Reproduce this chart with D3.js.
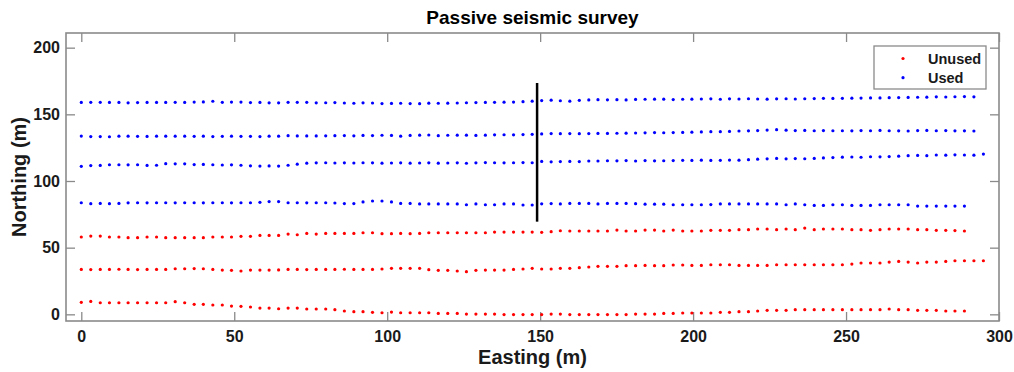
<!DOCTYPE html>
<html>
<head>
<meta charset="utf-8">
<script src="https://cdn.jsdelivr.net/npm/d3@7"></script>
<style>
  body { margin: 0; background: #fff; }
  svg { display: block; font-family: "Liberation Sans", Arial, Helvetica, sans-serif; }
  .tick text { font-size: 16px; font-weight: bold; fill: #1a1a1a; }
  .tick line { stroke: #8a8a8a; stroke-width: 1.3; }
</style>
</head>
<body>
<figure id="survey" style="margin:0"></figure>
<script>
// station eastings (m), shared by all lines
const eastings = [
  0, 3.1, 6.2, 9.2, 12.3, 15.3, 18.4, 21.5, 24.6, 27.6,
  30.7, 33.8, 36.9, 39.9, 43.0, 46.1, 49.1, 52.2, 55.3, 58.4,
  61.4, 64.5, 67.6, 70.6, 73.7, 76.8, 79.9, 82.9, 86.0, 89.1,
  92.1, 95.2, 98.3, 101.4, 104.4, 107.5, 110.6, 113.6, 116.7, 119.8,
  122.9, 125.9, 129.0, 132.1, 135.1, 138.2, 141.3, 144.4, 147.4, 150.5,
  153.6, 156.6, 159.7, 162.8, 165.9, 168.9, 172.0, 175.1, 178.1, 181.2,
  184.3, 187.4, 190.4, 193.5, 196.6, 199.6, 202.7, 205.8, 208.9, 211.9,
  215.0, 218.1, 221.1, 224.2, 227.3, 230.4, 233.4, 236.5, 239.6, 242.6,
  245.7, 248.8, 251.9, 254.9, 258.0, 261.1, 264.1, 267.2, 270.3, 273.4,
  276.4, 279.5, 282.6, 285.6, 288.7, 291.8, 294.9
];

// northings (m) of each line, "Used" lines
const used1 = [
  158.9, 159.0, 159.0, 158.9, 158.9, 158.6, 158.8, 158.9, 158.9, 158.9,
  159.0, 158.9, 159.2, 159.3, 159.8, 159.0, 159.2, 159.2, 158.8, 158.9,
  158.6, 158.6, 159.0, 159.0, 159.0, 158.6, 158.7, 158.8, 158.5, 158.3,
  158.6, 158.5, 158.1, 158.2, 158.3, 158.1, 158.0, 158.4, 158.3, 158.4,
  158.5, 158.7, 158.8, 158.9, 159.0, 159.1, 159.2, 159.5, 159.9, 160.3,
  160.6, 160.2, 159.9, 160.5, 160.8, 161.0, 160.9, 161.0, 160.8, 161.2,
  161.3, 161.4, 161.4, 161.1, 161.3, 161.4, 161.5, 161.6, 161.3, 161.6,
  161.5, 161.7, 161.5, 161.4, 161.6, 161.7, 161.5, 161.7, 161.8, 162.0,
  161.9, 162.0, 162.1, 162.2, 162.3, 162.3, 162.5, 162.6, 162.7, 162.8,
  162.9, 163.1, 163.0, 163.2, 163.3, 163.1
];
const used2 = [
  133.7, 133.3, 133.3, 133.2, 133.6, 133.6, 133.5, 133.4, 133.6, 133.6,
  133.6, 133.6, 133.5, 133.6, 133.3, 133.5, 133.6, 133.5, 133.5, 133.3,
  133.6, 133.6, 134.0, 133.8, 133.8, 133.8, 133.9, 134.0, 134.1, 133.9,
  134.2, 134.1, 134.3, 134.2, 133.6, 134.2, 134.4, 134.5, 134.0, 134.3,
  134.4, 134.4, 134.2, 134.4, 134.6, 134.7, 134.6, 134.8, 135.0, 135.3,
  135.6, 135.5, 135.6, 135.5, 135.6, 135.7, 135.7, 135.8, 135.9, 136.0,
  136.1, 136.3, 136.2, 136.3, 136.4, 136.6, 136.8, 137.0, 137.0, 137.2,
  137.5, 137.6, 137.8, 138.2, 138.5, 138.1, 137.8, 137.9, 137.7, 137.8,
  137.7, 137.7, 137.6, 137.8, 137.7, 137.9, 137.7, 137.6, 137.5, 137.8,
  137.9, 137.7, 137.8, 137.6, 137.6, 137.5
];
const used3 = [
  111.0, 111.6, 111.7, 112.2, 112.2, 112.1, 112.2, 111.7, 111.8, 113.0,
  112.9, 112.9, 112.3, 112.4, 112.2, 112.0, 112.1, 111.8, 111.4, 111.2,
  111.3, 111.2, 111.8, 112.6, 113.4, 113.6, 113.7, 113.5, 113.6, 113.5,
  113.7, 113.6, 113.4, 113.5, 113.6, 113.4, 113.5, 113.6, 113.4, 113.5,
  113.6, 113.3, 113.6, 113.8, 113.7, 113.6, 113.7, 113.8, 113.7, 114.7,
  114.4, 114.6, 114.7, 114.6, 115.0, 115.0, 115.2, 115.1, 115.3, 115.0,
  115.3, 115.1, 115.2, 115.3, 115.5, 115.4, 115.6, 115.4, 115.5, 115.7,
  115.6, 116.0, 116.4, 116.6, 116.9, 116.6, 116.8, 116.7, 116.9, 117.3,
  117.6, 117.9, 118.0, 117.8, 118.2, 118.1, 118.3, 118.6, 119.0, 119.2,
  119.0, 119.5, 119.4, 119.6, 119.5, 119.4, 120.2
];
const used4 = [
  83.7, 83.0, 83.2, 83.0, 83.2, 83.6, 83.7, 83.6, 83.7, 83.7,
  83.6, 83.7, 83.7, 83.6, 83.7, 83.7, 83.6, 83.7, 83.7, 84.0,
  84.6, 84.6, 83.7, 83.7, 83.6, 83.7, 83.7, 83.5, 83.1, 83.1,
  84.3, 85.0, 85.0, 84.3, 83.2, 83.2, 82.8, 82.8, 82.8, 82.8,
  82.8, 82.2, 82.8, 82.2, 82.2, 82.8, 82.8, 82.0, 82.0, 82.9,
  83.1, 82.8, 83.2, 83.2, 83.2, 82.8, 83.2, 83.2, 83.2, 83.0,
  82.6, 82.6, 82.6, 82.2, 82.2, 82.2, 82.2, 82.3, 82.8, 82.8,
  82.8, 82.8, 82.8, 82.8, 82.8, 82.2, 82.8, 82.2, 81.7, 81.7,
  82.2, 82.2, 81.7, 81.7, 81.7, 82.2, 82.2, 82.2, 82.2, 81.2,
  81.2, 81.2, 81.2, 81.2, 81.2
];

// "Unused" lines
const unused1 = [
  58.0, 58.7, 58.7, 58.0, 58.0, 57.5, 57.5, 58.0, 58.0, 57.5,
  57.5, 57.5, 57.5, 57.5, 58.0, 58.0, 58.0, 58.5, 58.5, 59.2,
  59.2, 59.2, 60.2, 59.7, 60.7, 60.2, 60.7, 60.7, 60.7, 60.7,
  61.2, 61.2, 60.5, 60.5, 60.7, 60.5, 60.7, 61.2, 61.2, 61.2,
  61.2, 61.2, 61.2, 61.2, 61.7, 61.7, 61.7, 61.7, 61.7, 61.5,
  62.0, 62.7, 62.5, 62.5, 62.5, 62.5, 62.5, 63.2, 62.5, 62.5,
  63.2, 63.2, 62.5, 63.2, 62.5, 62.5, 62.5, 63.0, 63.0, 63.0,
  63.5, 63.5, 64.0, 64.0, 63.5, 64.0, 63.5, 64.7, 63.5, 64.0,
  64.0, 64.0, 63.5, 63.5, 63.0, 63.5, 64.0, 64.0, 64.0, 63.5,
  63.5, 63.0, 63.0, 62.8, 62.5
];
const unused2 = [
  33.7, 33.6, 33.7, 33.7, 33.8, 33.7, 33.6, 33.7, 33.7, 33.7,
  34.2, 34.2, 34.3, 34.2, 33.7, 33.2, 33.0, 32.5, 33.2, 33.2,
  33.2, 33.3, 33.7, 33.7, 33.6, 33.7, 33.7, 33.7, 33.8, 33.7,
  33.7, 33.7, 34.0, 34.5, 34.5, 34.5, 34.5, 33.5, 33.0, 33.0,
  32.5, 32.0, 33.0, 33.2, 33.2, 33.2, 33.7, 34.0, 34.5, 34.0,
  34.0, 34.5, 34.5, 35.0, 35.5, 36.0, 36.0, 36.0, 36.5, 36.5,
  36.7, 36.5, 36.5, 37.0, 37.0, 36.7, 36.7, 37.2, 37.2, 37.2,
  36.7, 36.7, 36.7, 36.7, 37.2, 37.2, 37.2, 37.2, 37.2, 37.2,
  37.2, 37.2, 37.7, 38.5, 38.5, 38.5, 39.2, 39.7, 39.2, 38.5,
  39.2, 39.2, 39.7, 40.2, 40.2, 40.2, 40.2
];
const unused3 = [
  9.0, 9.7, 8.7, 8.7, 8.7, 8.7, 8.7, 8.7, 8.7, 8.7,
  9.5, 8.7, 7.5, 7.5, 7.0, 7.0, 6.2, 6.0, 5.5, 4.7,
  4.7, 4.2, 4.7, 4.7, 4.0, 4.0, 4.0, 3.5, 2.5, 2.0,
  2.0, 1.5, 1.2, 1.7, 1.2, 1.2, 1.2, 1.2, 0.7, 0.7,
  0.7, 0.2, 0.2, 0.2, 0.2, -0.2, -0.2, -0.2, -0.2, -0.2,
  0.2, 0.2, -0.2, -0.2, -0.2, -0.2, -0.2, -0.2, -0.2, 0.2,
  0.2, 0.2, 0.7, 0.7, 1.0, 1.0, 1.0, 1.0, 1.5, 1.5,
  2.0, 2.0, 2.5, 3.0, 3.0, 3.0, 3.5, 3.5, 3.5, 3.5,
  3.5, 3.5, 3.5, 3.5, 3.5, 3.5, 4.0, 3.5, 3.5, 3.0,
  3.0, 3.0, 2.5, 2.5, 2.5
];

// the vertical marker line
const markEasting = [149, 149];
const markNorthing = [69.5, 173.5];

const xTicks = [0, 50, 100, 150, 200, 250, 300];
const yTicks = [0, 50, 100, 150, 200];
const seriesNames = ["Unused", "Used"];
const seriesColors = ["#ff0000", "#0000ff"];

const W = 1014, H = 372;
const mLeft = 66, mRight = 999, mTop = 33, mBottom = 321;

const svg = d3.select("#survey").append("svg")
  .attr("width", W).attr("height", H);

const x = d3.scaleLinear().domain([-5, 300]).range([mLeft, mRight]);
const y = d3.scaleLinear().domain([-5, 211]).range([mBottom, mTop]);

// axes: inward ticks on all four sides
svg.append("g")
  .attr("transform", `translate(0,${mBottom})`)
  .call(d3.axisBottom(x).tickValues(xTicks).tickSizeInner(-9).tickSizeOuter(0).tickPadding(10))
  .call(g => g.select(".domain").remove());
svg.append("g")
  .attr("transform", `translate(${mLeft},0)`)
  .call(d3.axisLeft(y).tickValues(yTicks).tickSizeInner(-9).tickSizeOuter(0).tickPadding(6))
  .call(g => g.select(".domain").remove());
svg.append("g")
  .attr("transform", `translate(0,${mTop})`)
  .call(d3.axisTop(x).tickValues(xTicks).tickSizeInner(-9).tickSizeOuter(0).tickFormat(""))
  .call(g => g.select(".domain").remove());
svg.append("g")
  .attr("transform", `translate(${mRight},0)`)
  .call(d3.axisRight(y).tickValues(yTicks).tickSizeInner(-9).tickSizeOuter(0).tickFormat(""))
  .call(g => g.select(".domain").remove());

svg.append("rect")
  .attr("x", mLeft).attr("y", mTop)
  .attr("width", mRight - mLeft).attr("height", mBottom - mTop)
  .attr("fill", "none").attr("stroke", "#8a8a8a").attr("stroke-width", 1.6);

// dots
const groups = [
  { color: seriesColors[0], rows: [unused1, unused2, unused3] },
  { color: seriesColors[1], rows: [used1, used2, used3, used4] }
];
groups.forEach(grp => {
  grp.rows.forEach(row => {
    svg.append("g").selectAll("circle")
      .data(row)
      .enter()
      .append("circle")
      .attr("cx", (d, i) => x(eastings[i]))
      .attr("cy", d => y(d))
      .attr("r", 1.6)
      .attr("fill", grp.color);
  });
});

svg.append("path")
  .datum(markEasting.map((e, i) => [e, markNorthing[i]]))
  .attr("d", d3.line().x(d => x(d[0])).y(d => y(d[1])))
  .attr("stroke", "#000")
  .attr("stroke-width", 2.5)
  .attr("fill", "none");

// legend
const legend = svg.append("g");
legend.append("rect")
  .attr("x", 874).attr("y", 46).attr("width", 112).attr("height", 43)
  .attr("fill", "#fff").attr("stroke", "#8a8a8a").attr("stroke-width", 1.3);
seriesNames.forEach((name, i) => {
  legend.append("circle")
    .attr("cx", 903).attr("cy", 58.5 + i * 19.2).attr("r", 1.6)
    .attr("fill", seriesColors[i]);
  legend.append("text")
    .attr("x", 928).attr("y", 63.5 + i * 19.2)
    .style("font-size", "14.5px").style("font-weight", "bold").style("fill", "#1a1a1a")
    .text(name);
});

// titles
svg.append("text")
  .attr("x", (mLeft + mRight) / 2).attr("y", 23.5)
  .attr("text-anchor", "middle")
  .style("font-size", "19px").style("font-weight", "bold").style("fill", "#000")
  .text("Passive seismic survey");
svg.append("text")
  .attr("x", (mLeft + mRight) / 2).attr("y", 364)
  .attr("text-anchor", "middle")
  .style("font-size", "20px").style("font-weight", "bold").style("fill", "#1a1a1a")
  .text("Easting (m)");
svg.append("text")
  .attr("transform", `translate(26,${(mTop + mBottom) / 2}) rotate(-90)`)
  .attr("text-anchor", "middle")
  .style("font-size", "20px").style("font-weight", "bold").style("fill", "#1a1a1a")
  .text("Northing (m)");
</script>
</body>
</html>
